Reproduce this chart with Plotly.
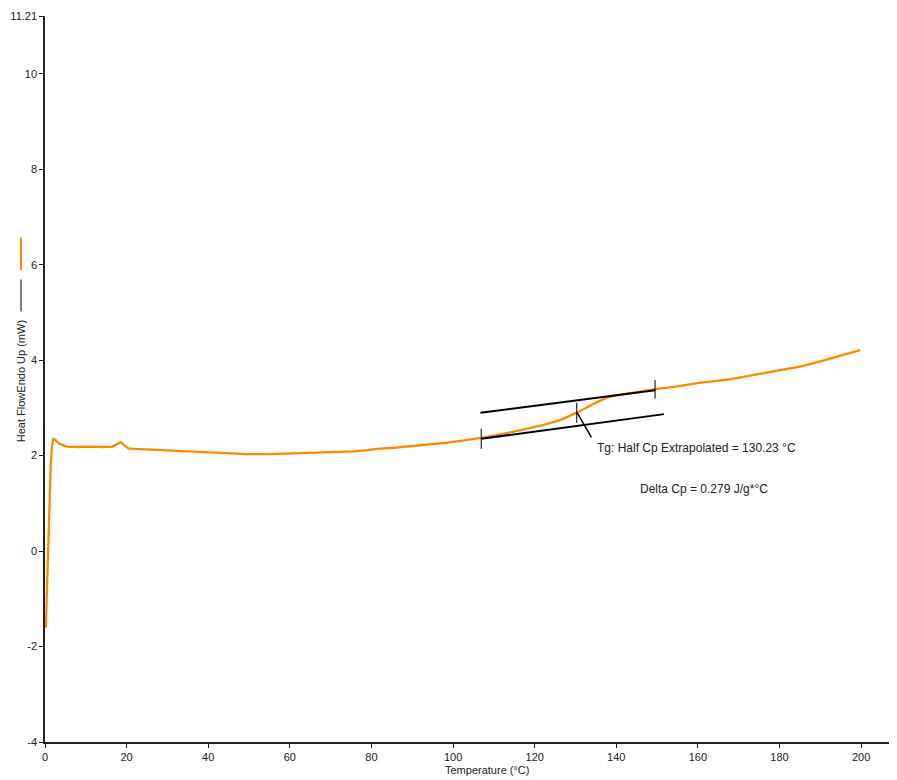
import plotly.graph_objects as go

# ---- data ----
temperature = [0.2, 0.4, 0.6, 0.8, 1.0, 1.2, 1.4, 1.7, 2.0, 2.6, 3.5, 5.3, 8, 11, 14, 16.5, 17.8,
               18.6, 19.4, 20.4, 22, 24.5, 29, 33.5, 38.8, 44.6, 49.5, 55, 59.3, 62, 66.3, 70,
               75.7, 78.5, 81.4, 86.3, 92.8, 98.6, 101.8, 103.5, 106.9, 112, 118.2, 122, 126.4,
               130.3, 134.6, 137.8, 140, 142.7, 146, 150.1, 154.2, 160.7, 167.3, 173.8, 180.4,
               185.3, 190.2, 195, 199.8]
heat_flow = [-1.6, -1.0, -0.4, 0.1, 0.7, 1.3, 1.8, 2.2, 2.35, 2.33, 2.25, 2.19, 2.18, 2.19, 2.18,
             2.19, 2.24, 2.28, 2.22, 2.15, 2.14, 2.13, 2.10, 2.08, 2.06, 2.04, 2.03, 2.03, 2.04,
             2.05, 2.06, 2.07, 2.09, 2.11, 2.14, 2.17, 2.22, 2.27, 2.31, 2.33, 2.37, 2.45, 2.56,
             2.64, 2.75, 2.90, 3.09, 3.22, 3.26, 3.30, 3.35, 3.40, 3.44, 3.53, 3.59, 3.69, 3.80,
             3.87, 3.98, 4.09, 4.21]

# glass-transition analysis construction
upper_tangent_x = [106.7, 149.5]
upper_tangent_y = [2.896, 3.370]
lower_tangent_x = [106.9, 151.7]
lower_tangent_y = [2.353, 2.869]
onset_mark_x = [106.9, 106.9]
onset_mark_y = [2.56, 2.14]
end_mark_x = [149.5, 149.5]
end_mark_y = [3.585, 3.19]
tg_mark_x = [130.3, 130.3]
tg_mark_y = [3.105, 2.687]
leader_x = [130.4, 133.9]
leader_y = [2.90, 2.38]

x_ticks = [0, 20, 40, 60, 80, 100, 120, 140, 160, 180, 200]
y_ticks = [-4, -2, 0, 2, 4, 6, 8, 10, 11.21]
y_tick_labels = ["-4", "-2", "0", "2", "4", "6", "8", "10", "11.21"]

tg_label = "Tg: Half Cp Extrapolated = 130.23 °C"
dcp_label = "Delta Cp = 0.279 J/g*°C"

FONT = "Liberation Sans, Arial, sans-serif"
ORANGE = "#FF8A00"
TXT = "#222"

fig = go.Figure()
fig.add_trace(go.Scatter(x=temperature, y=heat_flow, mode="lines",
                         line=dict(color=ORANGE, width=2.3), hoverinfo="skip"))
for xs, ys, w in [(upper_tangent_x, upper_tangent_y, 2), (lower_tangent_x, lower_tangent_y, 2),
                  (onset_mark_x, onset_mark_y, 1), (end_mark_x, end_mark_y, 1),
                  (tg_mark_x, tg_mark_y, 1), (leader_x, leader_y, 1.5)]:
    fig.add_trace(go.Scatter(x=xs, y=ys, mode="lines",
                             line=dict(color="black", width=w), hoverinfo="skip"))

fig.add_annotation(x=134.7, y=2.15, text=tg_label, showarrow=False, xanchor="left",
                   yanchor="middle", font=dict(family=FONT, size=12, color=TXT))
fig.add_annotation(x=145.2, y=1.30, text=dcp_label, showarrow=False, xanchor="left",
                   yanchor="middle", font=dict(family=FONT, size=12, color=TXT))

# axis titles
fig.add_annotation(x=0.52, y=-0.028, xref="paper", yref="paper", text="Temperature (°C)",
                   showarrow=False, xanchor="center", yanchor="top",
                   font=dict(family=FONT, size=11, color=TXT))
fig.add_annotation(x=-0.0282, y=0.497, xref="paper", yref="paper", text="Heat FlowEndo Up (mW)",
                   showarrow=False, textangle=-90, xanchor="center", yanchor="middle",
                   font=dict(family=FONT, size=11, color=TXT))
# legend glyphs beside the y title
fig.add_shape(type="line", xref="paper", yref="paper", x0=-0.0282, x1=-0.0282, y0=0.650, y1=0.695,
              line=dict(color=ORANGE, width=2))
fig.add_shape(type="line", xref="paper", yref="paper", x0=-0.0282, x1=-0.0282, y0=0.593, y1=0.637,
              line=dict(color="black", width=1))

fig.update_xaxes(range=[0, 208.3], tickvals=x_ticks, showgrid=False, zeroline=False,
                 showline=True, linecolor=TXT, linewidth=1.5, ticks="outside", ticklen=4,
                 tickcolor=TXT, tickfont=dict(family=FONT, size=11, color=TXT),
                 ticklabeloverflow="allow")
fig.update_yaxes(range=[-4, 11.21], tickvals=y_ticks, ticktext=y_tick_labels, showgrid=False,
                 zeroline=False, showline=True, linecolor=TXT, linewidth=1.5, ticks="outside",
                 ticklen=4, tickcolor=TXT, tickfont=dict(family=FONT, size=11, color=TXT),
                 ticklabeloverflow="allow")

# page body adds an 8px offset, so the figure is sized to fit the 897x780 window
fig.update_layout(width=889, height=772, showlegend=False, plot_bgcolor="white",
                  paper_bgcolor="white", margin=dict(l=37, r=2, t=6, b=38))

fig.write_html("out.html")
